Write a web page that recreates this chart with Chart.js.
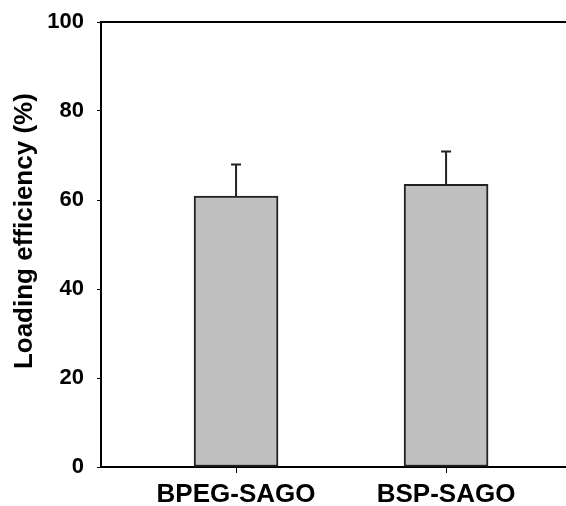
<!DOCTYPE html>
<html>
<head>
<meta charset="utf-8">
<script src="https://cdn.jsdelivr.net/npm/chart.js@4.4.0/dist/chart.umd.min.js"></script>
<style>
  html, body { margin: 0; padding: 0; background: #fff; }
  #wrap { width: 566px; height: 506px; }
</style>
</head>
<body>
<div id="wrap"><canvas id="myChart"></canvas></div>
<script>
// datos del grafico
const categories = ['BPEG-SAGO', 'BSP-SAGO'];
const positions = [1, 2];
const loading = [60.9, 63.5];
const loadingErr = [7.1, 7.4];
const yTicks = [0, 20, 40, 60, 80, 100];
const yTitle = 'Loading efficiency (%)';

const font = 'Liberation Sans, Arial, sans-serif';

// barras de error (solo hacia arriba), linea superior y titulo del eje y
const extras = {
    id: 'extras',
    afterDatasetsDraw(chart) {
        const ctx = chart.ctx;
        const xs = chart.scales.x, ys = chart.scales.y;
        const area = chart.chartArea;
        ctx.save();
        ctx.strokeStyle = '#222';
        ctx.lineWidth = 2;
        for (let i = 0; i < loading.length; i++) {
            const x = xs.getPixelForValue(positions[i]);
            const y0 = ys.getPixelForValue(loading[i]);
            const y1 = ys.getPixelForValue(loading[i] + loadingErr[i]);
            ctx.beginPath();
            ctx.moveTo(x, y0);
            ctx.lineTo(x, y1);
            ctx.moveTo(x - 5, y1);
            ctx.lineTo(x + 5, y1);
            ctx.stroke();
        }
        ctx.strokeStyle = '#000';
        ctx.beginPath();
        ctx.moveTo(area.left, area.top);
        ctx.lineTo(area.right, area.top);
        ctx.stroke();

        // titulo vertical
        ctx.translate(32, ys.getPixelForValue(53));
        ctx.rotate(-Math.PI / 2);
        ctx.fillStyle = '#000';
        ctx.font = 'bold 26px ' + font;
        ctx.textAlign = 'center';
        ctx.textBaseline = 'alphabetic';
        ctx.fillText(yTitle, 0, 0);
        ctx.restore();
    }
};

const data = {
    datasets: [{
        data: positions.map((p, i) => ({ x: p, y: loading[i] })),
        backgroundColor: '#c0c0c0',
        borderColor: '#222',
        borderWidth: 2,
        borderSkipped: false,
        barThickness: 84
    }]
};

const config = {
    type: 'bar',
    data: data,
    options: {
        responsive: true,
        maintainAspectRatio: false,
        animation: false,
        layout: { padding: { top: 22, right: 0, left: 0, bottom: 0 } },
        plugins: { legend: { display: false }, tooltip: { enabled: false } },
        scales: {
            x: {
                type: 'linear',
                min: 0.357,
                max: 2.571,
                offset: false,
                afterBuildTicks: (s) => { s.ticks = positions.map(v => ({ value: v })); },
                afterFit: (s) => { s.height = 39; s.paddingLeft = 0; s.paddingRight = 0; },
                ticks: {
                    callback: (v) => categories[positions.indexOf(v)],
                    color: '#000',
                    font: { family: font, size: 26, weight: 'bold' },
                    padding: 6,
                    maxRotation: 0,
                    autoSkip: false
                },
                grid: { offset: false, drawOnChartArea: false, drawTicks: true, tickLength: 6, color: '#000', lineWidth: 1 },
                border: { color: '#000', width: 2 }
            },
            y: {
                min: 0,
                max: 100,
                afterBuildTicks: (s) => { s.ticks = yTicks.map(v => ({ value: v })); },
                afterFit: (s) => { s.width = 101; s.paddingTop = 0; s.paddingBottom = 0; },
                ticks: {
                    color: '#000',
                    font: { family: font, size: 22, weight: 'bold' },
                    padding: 13
                },
                grid: { drawOnChartArea: false, drawTicks: true, tickLength: 4, color: '#000', lineWidth: 1 },
                border: { color: '#000', width: 2 }
            }
        }
    },
    plugins: [extras]
};

let myChart = new Chart(document.getElementById('myChart'), config);
</script>
</body>
</html>
